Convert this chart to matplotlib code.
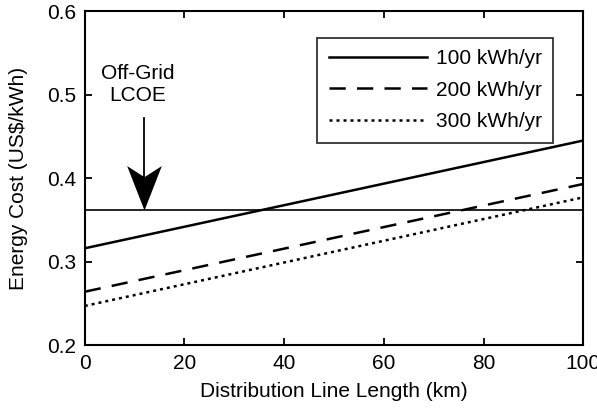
import matplotlib
matplotlib.use("Agg")
import matplotlib.pyplot as plt
from matplotlib.path import Path

plt.rcParams['font.family'] = ['Liberation Sans', 'DejaVu Sans']

# data
length_km = [0, 100]
cost_100 = [0.316, 0.445]
cost_200 = [0.264, 0.393]
cost_300 = [0.247, 0.377]
offgrid_lcoe = 0.362
labels = ["100 kWh/yr", "200 kWh/yr", "300 kWh/yr"]

fs = 15

fig = plt.figure(figsize=(5.97, 4.09), dpi=100)
ax = fig.add_axes([0.142, 0.156, 0.835, 0.817])

ax.plot(length_km, cost_100, color='black', lw=1.8, label=labels[0])
ax.plot(length_km, cost_200, color='black', lw=1.8, dashes=(6.5, 4.5), label=labels[1])
ax.plot(length_km, cost_300, color='black', lw=1.8, dashes=(1.2, 1.6), label=labels[2])
ax.axhline(offgrid_lcoe, color='black', lw=1.2)

# arrow: shaft plus a barbed (matlab style) head with its tip on the LCOE line
arrow_x = 11.8
ax.plot([arrow_x, arrow_x], [0.472, offgrid_lcoe + 0.03], color='black', lw=1.3)
head = Path([(0, 0), (-0.39, 1.0), (0, 0.75), (0.39, 1.0), (0, 0)],
            [Path.MOVETO, Path.LINETO, Path.LINETO, Path.LINETO, Path.CLOSEPOLY])
ax.plot([arrow_x], [offgrid_lcoe], marker=head, markersize=64, color='black', mew=0)
ax.text(10.6, 0.512, "Off-Grid\nLCOE", ha='center', va='center', fontsize=fs,
        linespacing=1.15)

ax.set_xlim(0, 100)
ax.set_ylim(0.2, 0.6)
ax.set_xticks([0, 20, 40, 60, 80, 100])
ax.set_yticks([0.2, 0.3, 0.4, 0.5, 0.6])
ax.tick_params(direction='in', top=True, right=True, labelsize=fs, length=5, width=1.3, pad=6)
for s in ax.spines.values():
    s.set_linewidth(1.5)
ax.set_xlabel("Distribution Line Length (km)", fontsize=fs, labelpad=7)
ax.set_ylabel("Energy Cost (US$/kWh)", fontsize=fs, labelpad=14)

leg = ax.legend(loc='upper right', bbox_to_anchor=(0.94, 0.92), fontsize=fs, frameon=True,
                fancybox=False, edgecolor='black', handlelength=4.7, borderpad=0.55,
                labelspacing=0.6, handletextpad=0.45, borderaxespad=0)
leg.get_frame().set_linewidth(1.3)

fig.savefig("out.png", dpi=100)
